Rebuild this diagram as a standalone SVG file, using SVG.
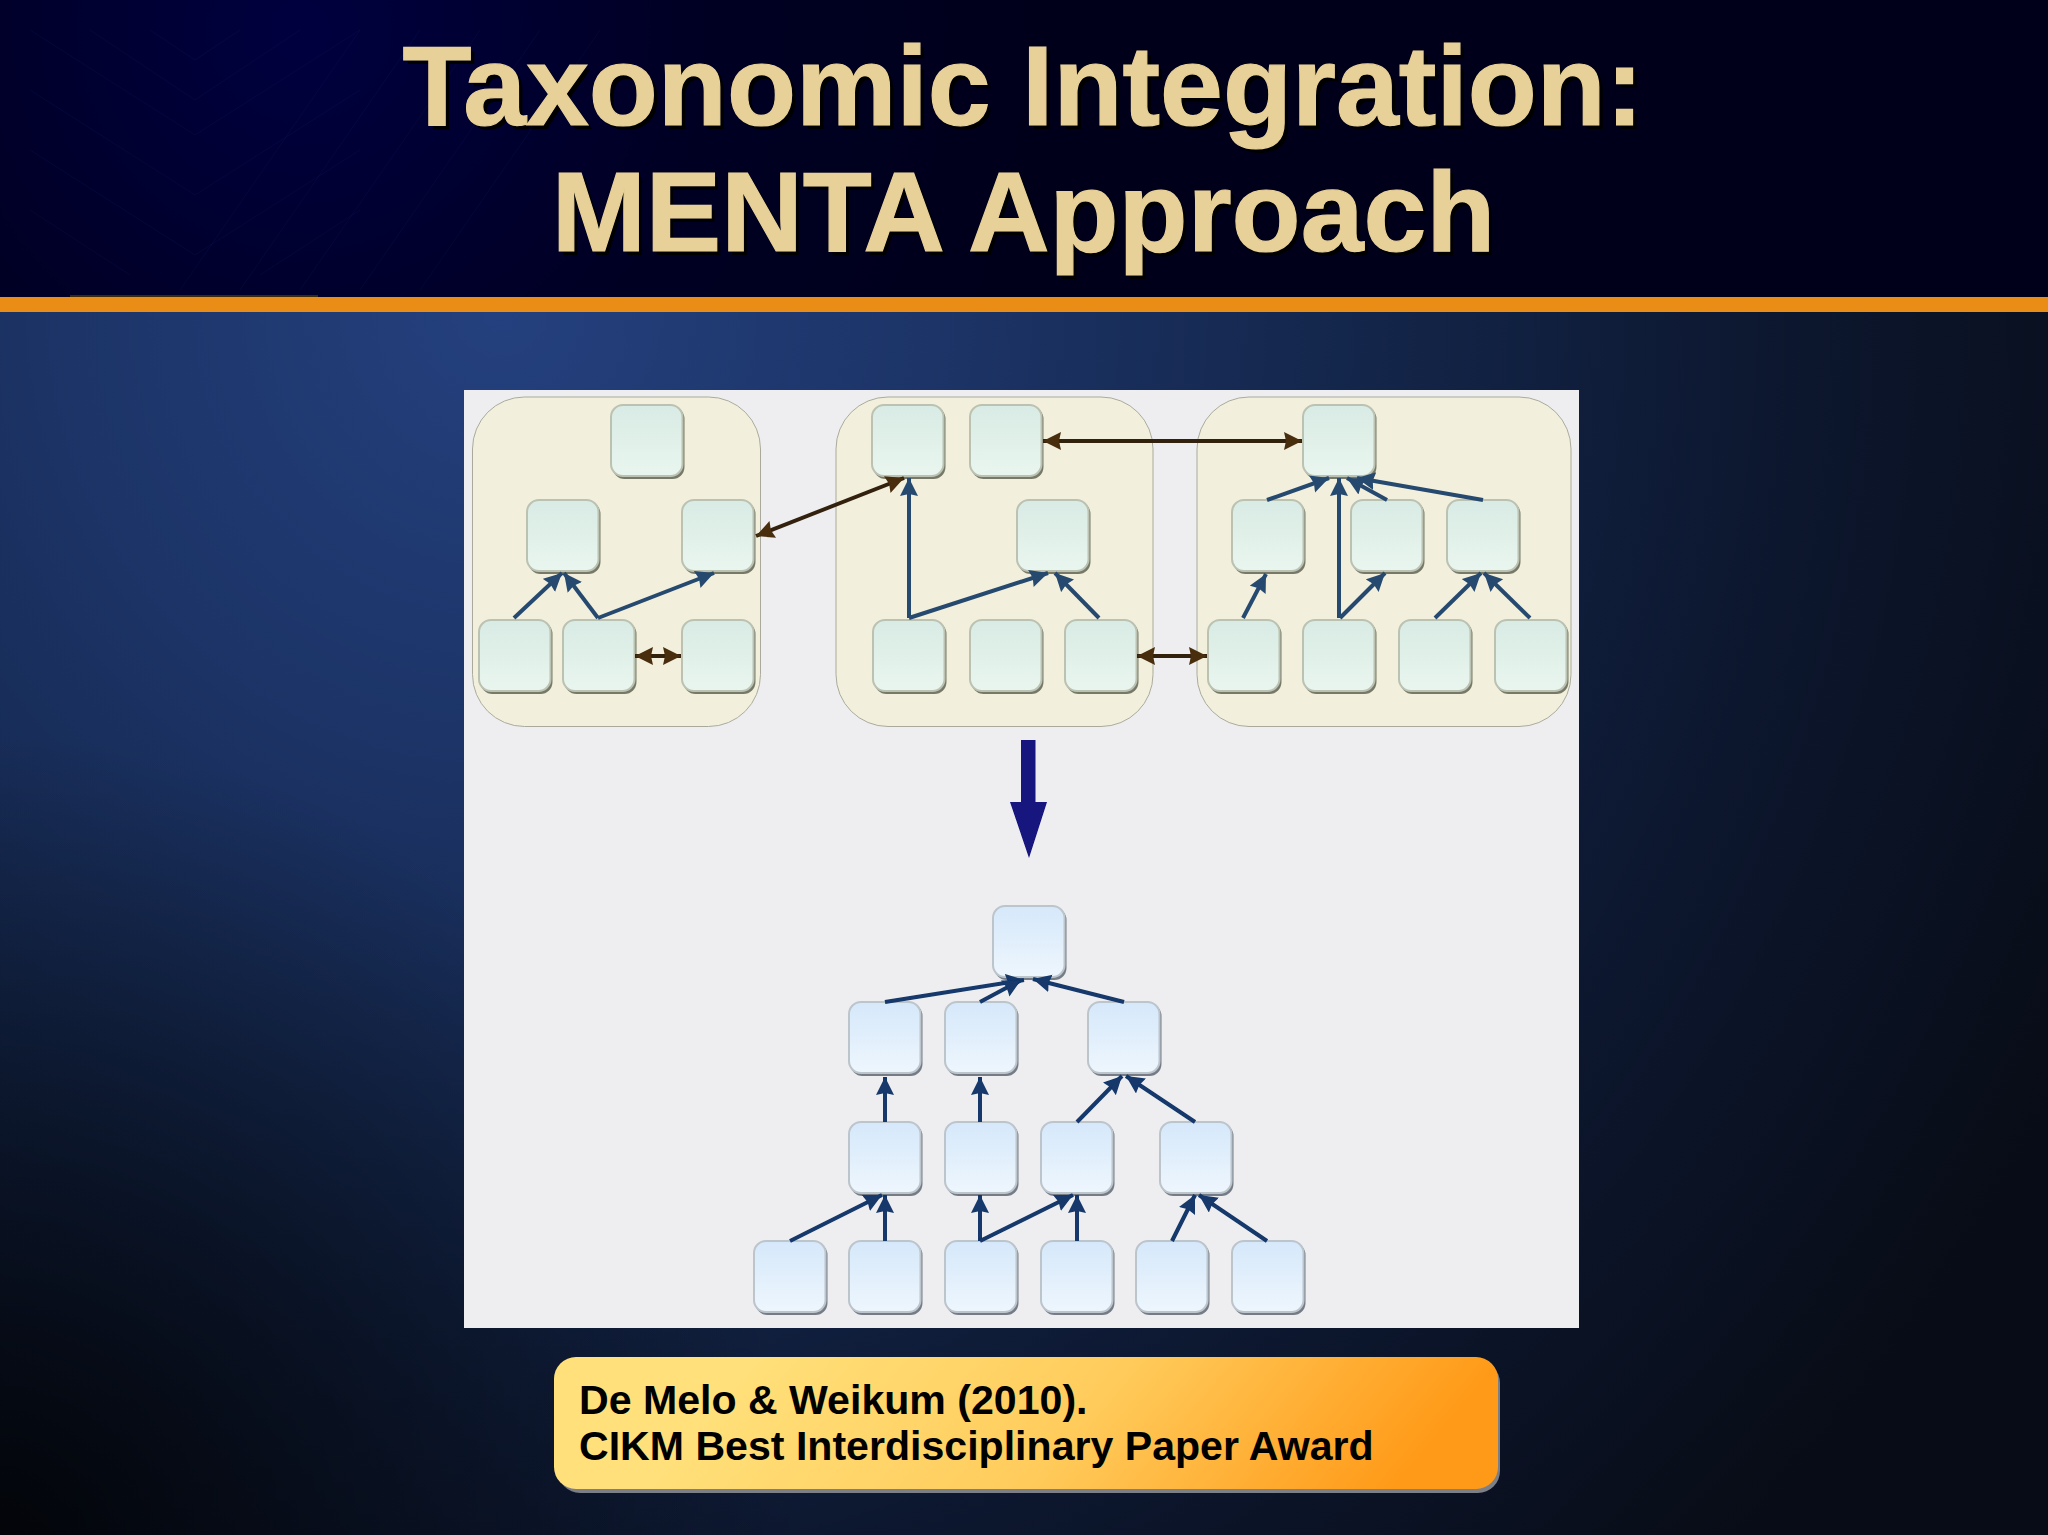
<svg xmlns="http://www.w3.org/2000/svg" width="2048" height="1535" viewBox="0 0 2048 1535">
<style>
.title{font-family:"Liberation Sans",Arial,sans-serif;font-weight:700;font-size:113px;text-anchor:middle;stroke-width:1.2}
.note{font-family:"Liberation Sans",Arial,sans-serif;font-weight:700;font-size:41.100px;fill:#000}
.group{fill:#f2f0dc;stroke:#a9aa9c;stroke-width:1}
.sg{fill:#767968}.bg{fill:url(#green);stroke:#bcc2b2;stroke-width:2}
.sc{fill:#747c86}.bc{fill:url(#blue);stroke:#bcc4cc;stroke-width:2}
.ub{stroke:#27496f;stroke-width:4;fill:none;marker-end:url(#hb)}
.lb{stroke:#12376b;stroke-width:4;fill:none;marker-end:url(#hn)}
.br{stroke:#33210f;stroke-width:4;fill:none;marker-start:url(#hs);marker-end:url(#he)}
.chev{fill:none;stroke:#24246e;stroke-width:1;opacity:.16}
.soft{filter:url(#soft)}
</style>
<defs>
<filter id="soft" x="-2%" y="-2%" width="104%" height="104%"><feGaussianBlur stdDeviation=".7"/></filter>
<radialGradient id="bgr" gradientUnits="userSpaceOnUse" cx="500" cy="310" r="1750">
<stop offset="0" stop-color="#24407e"/><stop offset=".25" stop-color="#1c3467"/><stop offset=".5" stop-color="#132549"/><stop offset=".75" stop-color="#0c162d"/><stop offset="1" stop-color="#080c16"/>
</radialGradient>
<radialGradient id="corner" gradientUnits="userSpaceOnUse" cx="0" cy="1535" r="800"><stop offset="0" stop-color="#000" stop-opacity=".8"/><stop offset="1" stop-color="#000" stop-opacity="0"/></radialGradient>
<radialGradient id="hd" gradientUnits="userSpaceOnUse" cx="300" cy="30" r="800">
<stop offset="0" stop-color="#000040"/><stop offset=".5" stop-color="#000024"/><stop offset="1" stop-color="#00001a"/>
</radialGradient>
<linearGradient id="green" x1="0" x2="0" y1="0" y2="1"><stop offset="0" stop-color="#d8ebe4"/><stop offset="1" stop-color="#e9f6ef"/></linearGradient>
<linearGradient id="blue" x1="0" x2="0" y1="0" y2="1"><stop offset="0" stop-color="#d5e8fa"/><stop offset="1" stop-color="#eef6fd"/></linearGradient>
<linearGradient id="note" gradientUnits="userSpaceOnUse" x1="860" y1="1230" x2="1300" y2="1600"><stop offset="0" stop-color="#ffe07a"/><stop offset=".5" stop-color="#ffcc5c"/><stop offset="1" stop-color="#ff9a18"/></linearGradient>
<marker id="hb" markerUnits="userSpaceOnUse" markerWidth="20" markerHeight="20" refX="18" refY="9" orient="auto"><path d="M0 0L18 9L0 18L2 9Z" fill="#27496f"/></marker>
<marker id="hn" markerUnits="userSpaceOnUse" markerWidth="20" markerHeight="20" refX="18" refY="9" orient="auto"><path d="M0 0L18 9L0 18L2 9Z" fill="#12376b"/></marker>
<marker id="he" markerUnits="userSpaceOnUse" markerWidth="20" markerHeight="20" refX="18" refY="9" orient="auto"><path d="M0 0L18 9L0 18L2 9Z" fill="#4a2d10"/></marker>
<marker id="hs" markerUnits="userSpaceOnUse" markerWidth="20" markerHeight="20" refX="0" refY="9" orient="auto"><path d="M18 0L0 9L18 18L16 9Z" fill="#4a2d10"/></marker>
<g id="ng"><rect class="sg" x="1.500" y="2" width="72" height="72" rx="12"/><rect class="bg" x="0" y="0" width="71.500" height="71" rx="12"/></g>
<g id="nc"><rect class="sc" x="1.500" y="2" width="72" height="72" rx="12"/><rect class="bc" x="0" y="0" width="71.500" height="71" rx="12"/></g>
</defs>
<rect width="2048" height="1535" fill="url(#bgr)"/>
<rect width="2048" height="1535" fill="url(#corner)"/>
<g id="header">
<rect width="2048" height="297" fill="url(#hd)"/>
<path class="chev" d="M30 30L195 135L360 30M30 90L195 195L360 90M30 150L195 255L360 150M30 210L130 275M360 210L260 275M90 30L195 100L300 30M150 30L195 60L240 30M360 30L180 290M420 30L240 290M480 30L300 290M540 30L360 290M600 30L420 290"/>
<rect x="70" y="295" width="248" height="2" fill="#3a2a10"/>
<rect y="297" width="2048" height="15" fill="#e98d16"/>
</g>
<g id="title">
<text class="title" x="1027" y="129" fill="#000">Taxonomic Integration:</text>
<text class="title" x="1027" y="255" fill="#000">MENTA Approach</text>
<text class="title" x="1023" y="125" fill="#e8d199" stroke="#e8d199">Taxonomic Integration:</text>
<text class="title" x="1023.500" y="251" fill="#e8d199" stroke="#e8d199">MENTA Approach</text>
</g>
<rect id="panel" x="464" y="390" width="1115" height="938" fill="#eeeef0"/>
<g class="soft">
<g id="group-left"><rect class="group" x="472.500" y="397" width="288" height="329.500" rx="52"/></g>
<g id="group-middle"><rect class="group" x="836" y="397" width="317" height="329.500" rx="52"/></g>
<g id="group-right"><rect class="group" x="1197" y="397" width="374" height="329.500" rx="52"/></g>
<g id="nodes-upper">
<g id="a1"><use href="#ng" x="611" y="405"/></g>
<g id="a2"><use href="#ng" x="527" y="500"/></g>
<g id="a3"><use href="#ng" x="682" y="500"/></g>
<g id="a4"><use href="#ng" x="479" y="620"/></g>
<g id="a5"><use href="#ng" x="563" y="620"/></g>
<g id="a6"><use href="#ng" x="682" y="620"/></g>
<g id="b1"><use href="#ng" x="872" y="405"/></g>
<g id="b2"><use href="#ng" x="970" y="405"/></g>
<g id="b3"><use href="#ng" x="1017" y="500"/></g>
<g id="b4"><use href="#ng" x="873" y="620"/></g>
<g id="b5"><use href="#ng" x="970" y="620"/></g>
<g id="b6"><use href="#ng" x="1065" y="620"/></g>
<g id="d1"><use href="#ng" x="1303" y="405"/></g>
<g id="d2"><use href="#ng" x="1232" y="500"/></g>
<g id="d3"><use href="#ng" x="1351" y="500"/></g>
<g id="d4"><use href="#ng" x="1447" y="500"/></g>
<g id="d5"><use href="#ng" x="1208" y="620"/></g>
<g id="d6"><use href="#ng" x="1303" y="620"/></g>
<g id="d7"><use href="#ng" x="1399" y="620"/></g>
<g id="d8"><use href="#ng" x="1495" y="620"/></g>
</g>
<g id="nodes-lower">
<g id="m1"><use href="#nc" x="993" y="906"/></g>
<g id="m2"><use href="#nc" x="849" y="1002"/></g>
<g id="m3"><use href="#nc" x="945" y="1002"/></g>
<g id="m4"><use href="#nc" x="1088" y="1002"/></g>
<g id="m5"><use href="#nc" x="849" y="1122"/></g>
<g id="m6"><use href="#nc" x="945" y="1122"/></g>
<g id="m7"><use href="#nc" x="1041" y="1122"/></g>
<g id="m8"><use href="#nc" x="1160" y="1122"/></g>
<g id="m9"><use href="#nc" x="754" y="1241"/></g>
<g id="m10"><use href="#nc" x="849" y="1241"/></g>
<g id="m11"><use href="#nc" x="945" y="1241"/></g>
<g id="m12"><use href="#nc" x="1041" y="1241"/></g>
<g id="m13"><use href="#nc" x="1136" y="1241"/></g>
<g id="m14"><use href="#nc" x="1232" y="1241"/></g>
</g>
<g id="connectors">
<path class="ub" d="M514 618L562 573"/>
<path class="ub" d="M598 618L564 573"/>
<path class="ub" d="M598 618L714 573"/>
<path class="ub" d="M909 618V478"/>
<path class="ub" d="M909 618L1048 573"/>
<path class="ub" d="M1099 618L1055 573"/>
<path class="ub" d="M1267 500L1329 478"/>
<path class="ub" d="M1339 618V478"/>
<path class="ub" d="M1387 500L1347 478"/>
<path class="ub" d="M1483 500L1357 478"/>
<path class="ub" d="M1243 618L1266 574"/>
<path class="ub" d="M1340 618L1385 573"/>
<path class="ub" d="M1435 618L1481 573"/>
<path class="ub" d="M1530 618L1484 573"/>
<path class="br" d="M635 656H681"/>
<path class="br" d="M756 536L904 478"/>
<path class="br" d="M1043 441H1302"/>
<path class="br" d="M1137 656H1207"/>
<path class="lb" d="M885 1002L1024 980"/>
<path class="lb" d="M980 1002L1021 980"/>
<path class="lb" d="M1124 1002L1033 979"/>
<path class="lb" d="M885 1122V1077"/>
<path class="lb" d="M980 1122V1077"/>
<path class="lb" d="M1077 1122L1122 1076"/>
<path class="lb" d="M1195 1122L1126 1076"/>
<path class="lb" d="M790 1241L882 1195"/>
<path class="lb" d="M885 1241V1195"/>
<path class="lb" d="M980 1241V1195"/>
<path class="lb" d="M980 1241L1073 1195"/>
<path class="lb" d="M1077 1241V1195"/>
<path class="lb" d="M1172 1241L1195 1195"/>
<path class="lb" d="M1267 1241L1199 1195"/>
</g>
<path id="merge-arrow" d="M1021 740H1035.500V802H1047L1029 858L1010 802H1021Z" fill="#12127e"/>
</g>
<g id="callout">
<rect x="558" y="1361" width="942" height="132" rx="22" fill="#7d7f86"/>
<rect x="554" y="1357" width="944" height="132" rx="22" fill="url(#note)"/>
<text class="note" x="579" y="1414">De Melo &amp; Weikum (2010).</text>
<text class="note" x="579" y="1460">CIKM Best Interdisciplinary Paper Award</text>
</g>
</svg>
